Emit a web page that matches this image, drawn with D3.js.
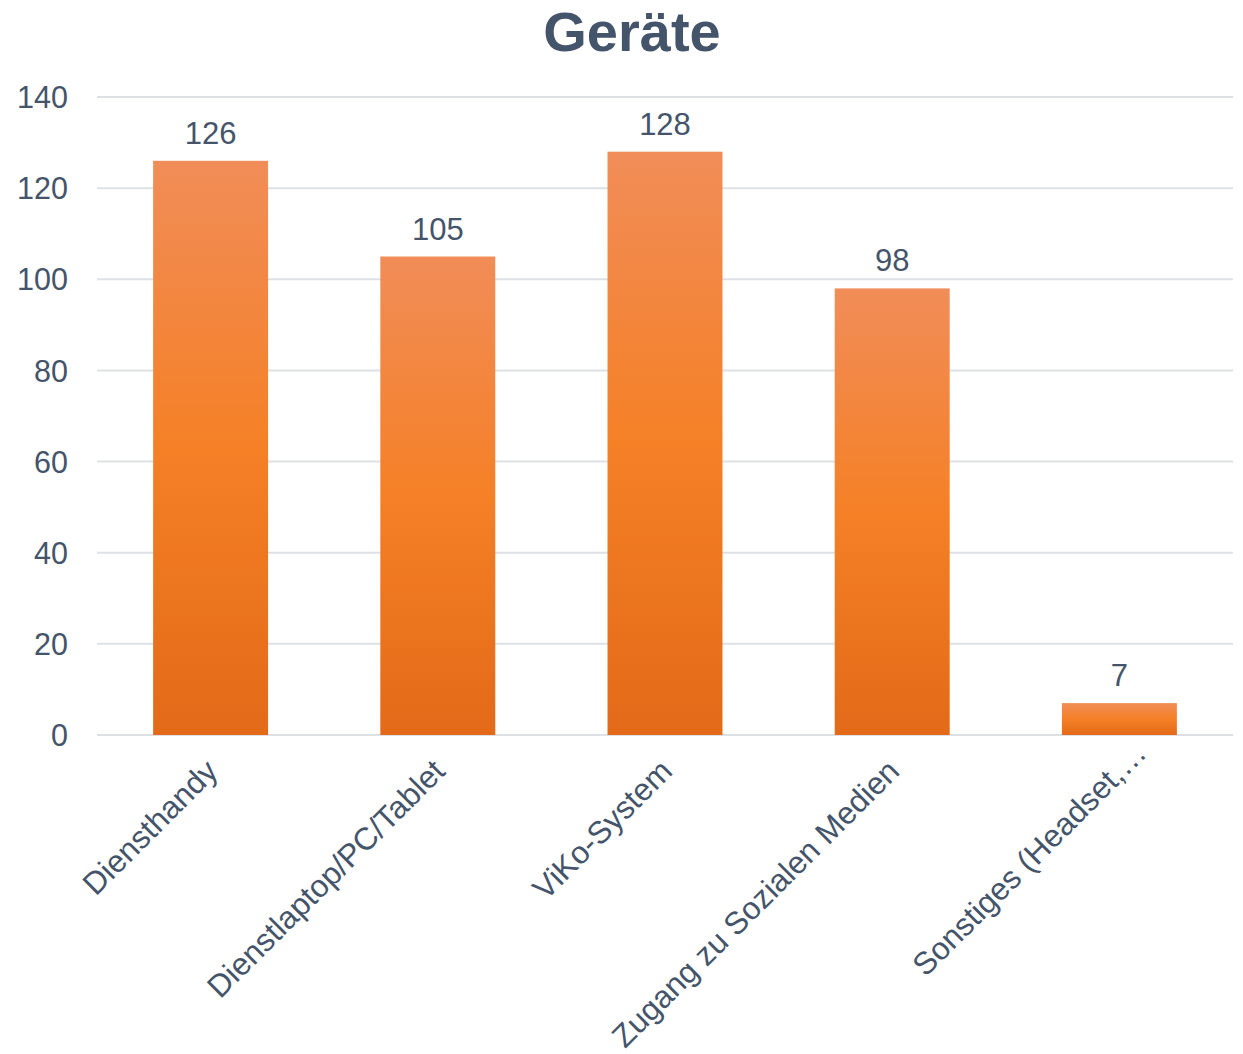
<!DOCTYPE html>
<html><head><meta charset="utf-8">
<script src="https://cdn.jsdelivr.net/npm/d3@7"></script>
<style>body{margin:0;background:#fff}svg{display:block}</style>
</head><body>
<script>
const categories = ["Diensthandy", "Dienstlaptop/PC/Tablet", "ViKo-System", "Zugang zu Sozialen Medien", "Sonstiges (Headset,…"];
const values = [126, 105, 128, 98, 7];
const yTicks = [0, 20, 40, 60, 80, 100, 120, 140];
const title = "Geräte";

const W = 1243, H = 1054;
const m = {left: 97, right: 10, top: 97, bottom: 319};
const textColor = "#44546A";
const font = "'Liberation Sans', Arial, sans-serif";
const fs = 31;

const svg = d3.select("body").append("svg").attr("width", W).attr("height", H);
const defs = svg.append("defs");
const grad = defs.append("linearGradient").attr("id", "barGrad")
  .attr("x1", 0).attr("y1", 0).attr("x2", 0).attr("y2", 1);
grad.append("stop").attr("offset", "0%").attr("stop-color", "#F18D58");
grad.append("stop").attr("offset", "50%").attr("stop-color", "#F58026");
grad.append("stop").attr("offset", "100%").attr("stop-color", "#E36A18");

const x = d3.scaleBand().domain(categories).range([m.left, W - m.right]).padding(0);
const y = d3.scaleLinear().domain([0, 140]).range([H - m.bottom, m.top]);
const barW = x.bandwidth() * 0.506;

svg.append("text").attr("x", 632).attr("y", 51).attr("text-anchor", "middle")
  .attr("font-family", font).attr("font-weight", "bold").attr("font-size", 56)
  .attr("fill", textColor).text(title);

// grid
svg.append("g").selectAll("line").data(yTicks).join("line")
  .attr("x1", m.left).attr("x2", W - m.right)
  .attr("y1", d => y(d)).attr("y2", d => y(d))
  .attr("stroke", "#DDE1E7").attr("stroke-width", 2);

// y axis
const yAxis = d3.axisLeft(y).tickValues(yTicks).tickSize(0).tickPadding(29);
const gy = svg.append("g").attr("transform", `translate(${m.left},0)`).call(yAxis);
gy.select(".domain").remove();
gy.selectAll("text").attr("font-family", font).attr("font-size", 30.5).attr("fill", textColor).attr("dy", "0.35em");

// bars
svg.append("g").selectAll("rect").data(values).join("rect")
  .attr("x", (d, i) => x(categories[i]) + (x.bandwidth() - barW) / 2)
  .attr("y", d => y(d))
  .attr("width", barW)
  .attr("height", d => y(0) - y(d))
  .attr("fill", "url(#barGrad)");

// data labels
svg.append("g").selectAll("text").data(values).join("text")
  .attr("x", (d, i) => x(categories[i]) + x.bandwidth() / 2)
  .attr("y", d => y(d) - 17)
  .attr("text-anchor", "middle")
  .attr("font-family", font).attr("font-size", fs).attr("fill", textColor)
  .text(d => d);

// x axis
const xAxis = d3.axisBottom(x).tickSize(0).tickPadding(0);
const gx = svg.append("g").attr("transform", `translate(0,${y(0)})`).call(xAxis);
gx.select(".domain").remove();
const nCat = categories.length;
gx.selectAll("text")
  .attr("font-family", font).attr("font-size", 31.5).attr("fill", textColor)
  .attr("text-anchor", "end")
  .attr("dy", null)
  .attr("transform", (d, i) => i === nCat - 1 ? "translate(29,20) rotate(-45)" : "translate(9,38) rotate(-45)");
</script>
</body></html>
